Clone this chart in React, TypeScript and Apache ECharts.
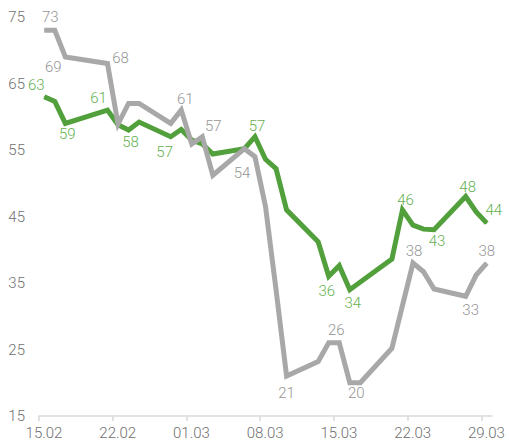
import React, { useEffect, useRef } from "react";
import * as echarts from "echarts";

// Tick labels (one every 7 days, starting 15.02)
const tickDates = ["15.02", "22.02", "01.03", "08.03", "15.03", "22.03", "29.03"];

// Day offsets from 15.02 and values
const greenDays = [0, 1, 2, 6, 7, 8, 9, 12, 13, 14, 15, 16, 19, 20, 21, 22, 23, 26, 27, 28, 29, 33, 34, 35, 36, 37, 40, 41, 42];
const greenValues = [63, 62.3, 59, 61, 58.8, 58, 59.2, 57, 58.1, 56.5, 55.9, 54.4, 55.2, 57, 53.6, 52.2, 46, 41.2, 36, 37.6, 34, 38.6, 46, 43.7, 43.1, 43, 48, 45.7, 44];

const greyDays = [0, 1, 2, 6, 7, 8, 9, 12, 13, 14, 15, 16, 19, 20, 21, 22, 23, 26, 27, 28, 29, 30, 33, 35, 36, 37, 40, 41, 42];
const greyValues = [73, 73, 69, 68, 58.9, 62, 62, 59, 61, 55.9, 57, 51.2, 55.2, 54, 46.5, 34, 21, 23.2, 26, 26, 20, 20, 25.2, 38, 36.7, 34.1, 33, 36.2, 38];

// Which points carry a value label
const greenLabelDays = [0, 2, 6, 8, 12, 20, 27, 29, 34, 37, 40, 42];
const greyLabelDays = [0, 2, 6, 13, 15, 20, 23, 28, 30, 35, 40, 42];

// Label offsets (layout only) in px: [dx, dy] from the point
const greenLabelOffsets: Record<number, [number, number]> = {
  0: [-8, -12], 2: [2, 11], 6: [-9, -12], 8: [2, 12], 12: [-6, 15], 20: [2, -11],
  27: [-2, 15], 29: [3, 13], 34: [3, -10], 37: [3, 11], 40: [2, -10], 42: [7, -13],
};
const greyLabelOffsets: Record<number, [number, number]> = {
  0: [6, -13], 2: [-12, 10], 6: [13, -6], 13: [4, -11], 15: [11, -11], 20: [-13, 16],
  23: [0, 17], 28: [-3, -13], 30: [-4, 10], 35: [1, -12], 40: [5, 14], 42: [0, -12],
};

const GREEN = "#52a03c";
const GREEN_TEXT = "#64b150";
const GREY = "#a8a8a8";
const GREY_TEXT = "#959595";
const AXIS_TEXT = "#707070";
const FONT = "Roboto";

function buildData(days: number[], values: number[], labelDays: number[], offsets: Record<number, [number, number]>, color: string) {
  return days.map((d, i) => {
    const point = [d + 0.5, values[i]];
    if (labelDays.indexOf(d) >= 0) {
      return {
        value: point,
        label: {
          show: true,
          position: "inside",
          offset: offsets[d],
          color,
          fontSize: 15,
          fontFamily: FONT,
          fontWeight: 300,
          formatter: (p: any) => String(Math.round(p.value[1])),
        },
      };
    }
    return { value: point };
  });
}

export default function App() {
  const ref = useRef<HTMLDivElement>(null);
  useEffect(() => {
    if (!ref.current) return;
    const chart = echarts.init(ref.current, null, { renderer: "svg" });
    chart.setOption({
      animation: false,
      backgroundColor: "#ffffff",
      grid: { left: 39, right: 17, top: 17, bottom: 31, containLabel: false },
      xAxis: {
        type: "value",
        min: 0,
        max: 43,
        interval: 7,
        splitLine: { show: false },
        axisLine: { show: true, lineStyle: { color: "#d9d9d9", width: 1.5 } },
        axisTick: { show: true, length: 5, lineStyle: { color: "#d9d9d9", width: 1.5 } },
        axisLabel: {
          color: AXIS_TEXT,
          fontSize: 15,
          fontFamily: FONT,
          fontWeight: 300,
          margin: 9,
          padding: [0, 0, 0, 10],
          formatter: (v: number) => tickDates[Math.round(v / 7)] ?? "",
        },
      },
      yAxis: {
        type: "value",
        min: 15,
        max: 75,
        interval: 10,
        splitLine: { show: false },
        axisLine: { show: false },
        axisTick: { show: false },
        axisLabel: {
          color: AXIS_TEXT,
          fontSize: 15,
          fontFamily: FONT,
          fontWeight: 300,
          margin: 14,
        },
      },
      series: [
        {
          type: "line",
          name: "green",
          data: buildData(greenDays, greenValues, greenLabelDays, greenLabelOffsets, GREEN_TEXT),
          symbol: "circle",
          symbolSize: 1,
          showSymbol: true,
          itemStyle: { color: GREEN },
          lineStyle: { color: GREEN, width: 5, join: "miter" },
          z: 2,
        },
        {
          type: "line",
          name: "grey",
          data: buildData(greyDays, greyValues, greyLabelDays, greyLabelOffsets, GREY_TEXT),
          symbol: "circle",
          symbolSize: 1,
          showSymbol: true,
          itemStyle: { color: GREY },
          lineStyle: { color: GREY, width: 5, join: "miter" },
          z: 3,
        },
      ],
    });
    return () => chart.dispose();
  }, []);
  return (
    <div
      ref={ref}
      style={{ position: "fixed", left: 0, top: 0, width: 509, height: 447 }}
    />
  );
}
